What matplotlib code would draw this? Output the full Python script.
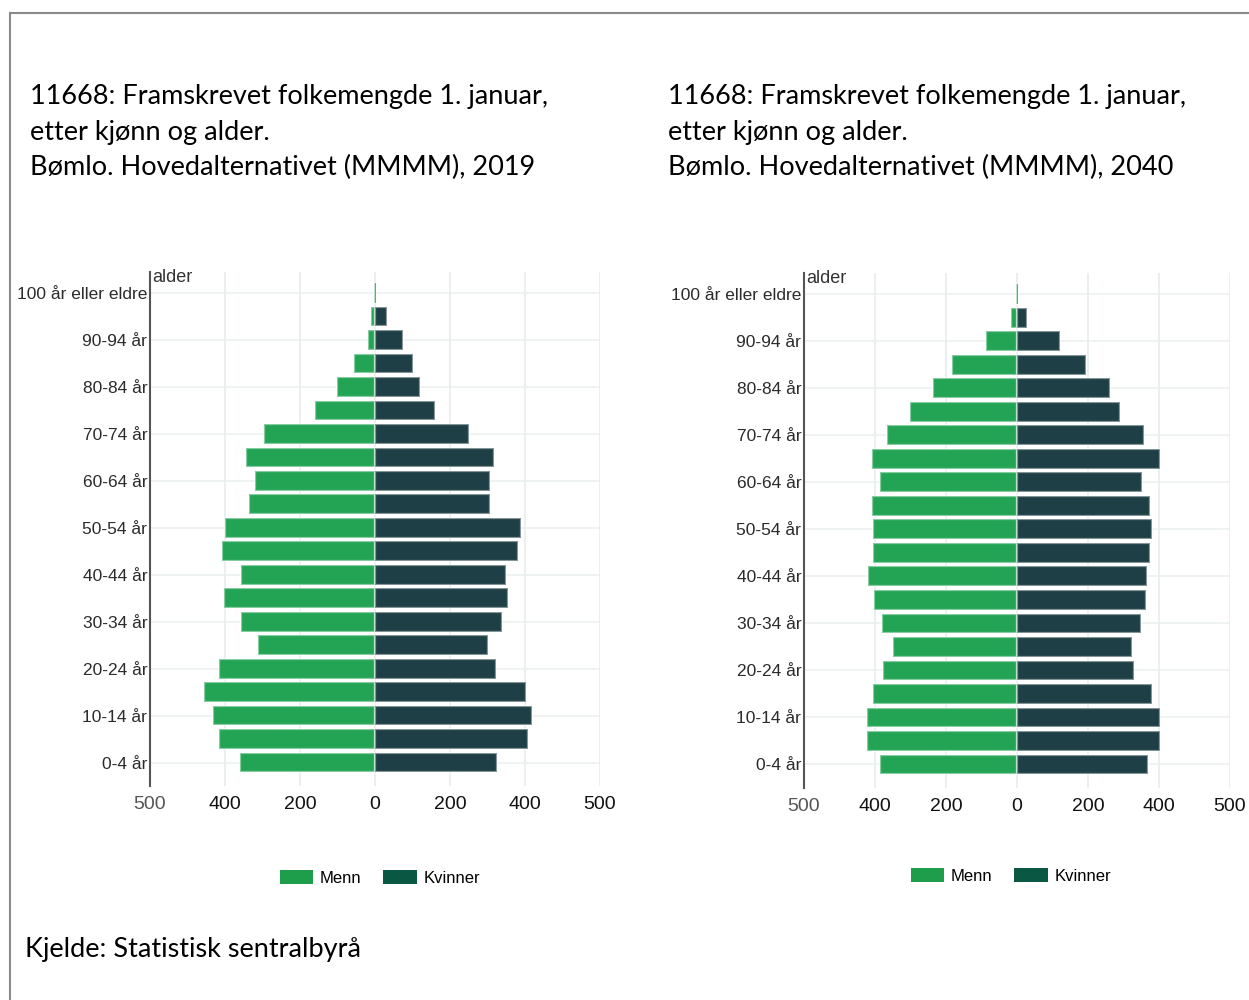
import matplotlib
matplotlib.use("Agg")
import matplotlib.pyplot as plt
from matplotlib.patches import Rectangle
import numpy as np

# age groups, bottom to top
age_groups = ["0-4 år", "5-9 år", "10-14 år", "15-19 år", "20-24 år", "25-29 år",
              "30-34 år", "35-39 år", "40-44 år", "45-49 år", "50-54 år", "55-59 år",
              "60-64 år", "65-69 år", "70-74 år", "75-79 år", "80-84 år", "85-89 år",
              "90-94 år", "95-99 år", "100 år eller eldre"]

# 2019
menn_2019 = [360, 416, 432, 456, 416, 311, 358, 403, 358, 408, 400, 336,
             320, 344, 295, 161, 102, 56, 18, 10, 2]
kvinner_2019 = [326, 408, 419, 403, 322, 300, 338, 354, 349, 381, 390, 306,
                306, 317, 250, 161, 120, 102, 75, 32, 2]

# 2040
menn_2040 = [387, 423, 423, 407, 378, 348, 381, 403, 419, 405, 405, 408,
             385, 408, 367, 302, 236, 182, 87, 17, 3]
kvinner_2040 = [369, 404, 404, 379, 329, 323, 350, 363, 366, 374, 379, 374,
                352, 404, 358, 291, 261, 193, 120, 29, 3]

x_ticks = [-600, -400, -200, 0, 200, 400, 600]
x_ticklabels = ["500", "400", "200", "0", "200", "400", "500"]

title_lines = "11668: Framskrevet folkemengde 1. januar,\netter kjønn og alder.\nBømlo. Hovedalternativet (MMMM), {}"

MENN_C = "#23a455"
KVINNER_C = "#1e3f45"
CHART_FONT = "Liberation Sans"

fig = plt.figure(figsize=(12.49, 10), dpi=100)
fig.patch.set_facecolor("white")

# outer frame of the slide
fig.patches.append(Rectangle((10 / 1249, -0.2), 1.2, 1.2 - 13 / 1000,
                             transform=fig.transFigure, fill=False,
                             edgecolor="#8a8a8a", lw=1.5))


def pyramid(rect, menn, kvinner, year, title_x, legend_xy):
    ax = fig.add_axes(rect)
    y = np.arange(len(age_groups))
    ax.barh(y, -np.array(menn), height=0.84, color=MENN_C,
            edgecolor=(1, 1, 1, 0.45), lw=1.6, label="Menn", zorder=3)
    ax.barh(y, kvinner, height=0.84, color=KVINNER_C,
            edgecolor=(1, 1, 1, 0.45), lw=1.6, label="Kvinner", zorder=3)
    ax.set_xlim(-600, 600)
    ax.set_ylim(-1.0, 20.9)
    ax.set_xticks(x_ticks)
    ax.set_xticklabels(x_ticklabels, family=CHART_FONT, fontsize=14, color="#111111")
    ax.get_xticklabels()[0].set_color("#555555")
    ax.set_yticks(y[::2])
    ax.set_yticklabels(age_groups[::2], family=CHART_FONT, fontsize=12.5, color="#2b2b2b")
    ax.tick_params(axis="both", length=0, pad=7)
    ax.tick_params(axis="y", pad=2)
    ax.grid(axis="x", color="#e6eded", lw=1.2, zorder=0)
    for yy in y[::2]:
        ax.axhline(yy, color="#edf1f1", lw=1.2, zorder=0)
    for s in ["top", "right", "bottom"]:
        ax.spines[s].set_visible(False)
    ax.spines["left"].set_color("#555555")
    ax.spines["left"].set_linewidth(1.5)
    ax.text(0.005, 1.005, "alder", transform=ax.transAxes, family=CHART_FONT,
            fontsize=13, color="#333333", va="top", ha="left")
    fig.text(title_x, 0.916, title_lines.format(year), family="Lato",
             fontsize=19.5, color="black", va="top", ha="left", linespacing=1.53)
    leg = ax.legend(loc="center", bbox_to_anchor=legend_xy, ncol=2,
                    frameon=False, prop={"family": CHART_FONT, "size": 12},
                    handlelength=2.0, handleheight=0.85, handletextpad=0.4,
                    columnspacing=1.3, bbox_transform=fig.transFigure)
    for h in leg.legend_handles:
        h.set_edgecolor("none")
    leg.legend_handles[0].set_facecolor("#1e9e4a")
    leg.legend_handles[1].set_facecolor("#0a5744")
    return ax


ax1 = pyramid([150 / 1249, 1 - 786 / 1000, 450 / 1249, 514 / 1000],
              menn_2019, kvinner_2019, 2019, 30 / 1249, (380 / 1249, 1 - 878 / 1000))
ax2 = pyramid([804 / 1249, 1 - 788 / 1000, 426 / 1249, 515 / 1000],
              menn_2040, kvinner_2040, 2040, 668 / 1249, (1011 / 1249, 1 - 876 / 1000))

fig.text(25 / 1249, 1 - 950 / 1000, "Kjelde: Statistisk sentralbyrå", family="Lato",
         fontsize=19.5, color="black", va="center", ha="left")

fig.savefig("out.png", dpi=100)
